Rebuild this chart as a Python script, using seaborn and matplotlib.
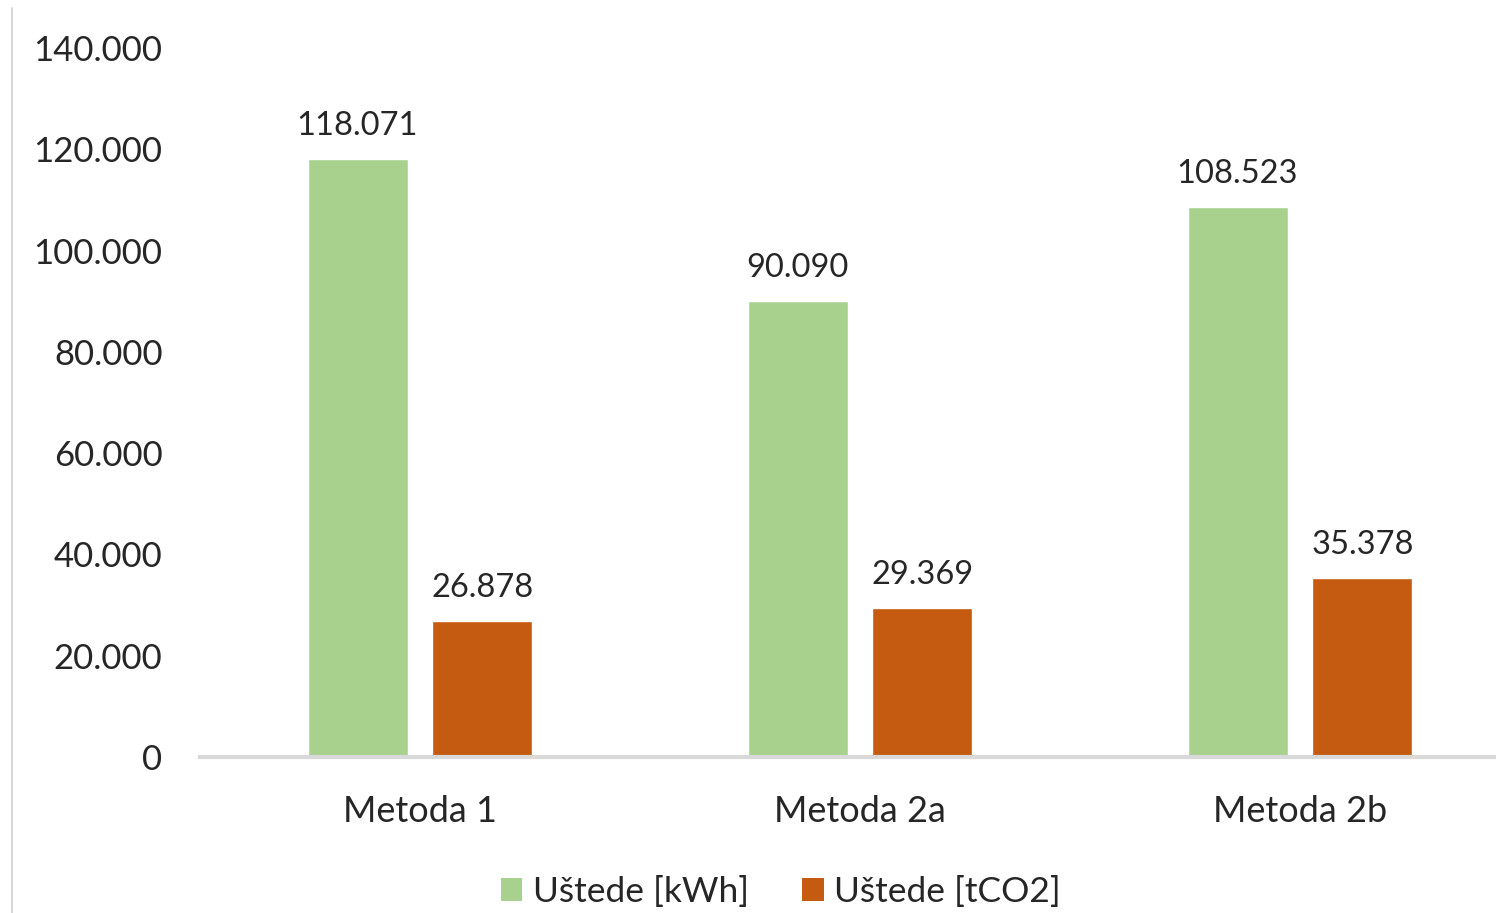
import matplotlib
matplotlib.use("Agg")
import matplotlib.pyplot as plt
from matplotlib.lines import Line2D
from matplotlib.patches import Patch
import seaborn as sns
import pandas as pd

categories = ["Metoda 1", "Metoda 2a", "Metoda 2b"]
series_names = ["Uštede [kWh]", "Uštede [tCO2]"]
kwh_values = [118071, 90090, 108523]
tco2_values = [26878, 29369, 35378]
y_ticks = [0, 20000, 40000, 60000, 80000, 100000, 120000, 140000]

colors = ["#A9D18E", "#C55A11"]

def fmt(v):
    return f"{int(round(v)):,}".replace(",", ".")

df = pd.DataFrame({
    "Metoda": categories * 2,
    "Serija": [series_names[0]] * 3 + [series_names[1]] * 3,
    "Vrijednost": kwh_values + tco2_values,
})

sns.set_theme(style="white")
plt.rcParams["font.family"] = ["Lato", "DejaVu Sans"]

fig = plt.figure(figsize=(14.96, 9.13), dpi=100)
ax = fig.add_axes([200 / 1496, (913 - 757) / 913, 1 - 200 / 1496, (757 - 48) / 913])

sns.barplot(data=df, x="Metoda", y="Vrijednost", hue="Serija", palette=colors,
            width=0.568, gap=0.2, ax=ax, legend=False, saturation=1)

for container in ax.containers:
    ax.bar_label(container, labels=[fmt(b.get_height()) for b in container],
                 padding=13, fontsize=23.5, color="#262626")

ax.set_ylim(0, 140000)
ax.set_xlim(-0.5, (1496 - 420) / 440)
ax.set_yticks(y_ticks)
ax.set_yticklabels([fmt(t) for t in y_ticks], fontsize=25, color="#262626")
ax.tick_params(axis="y", length=0, pad=27)
ax.tick_params(axis="x", length=0, pad=27, labelsize=26, labelcolor="#262626")
ax.set_xlabel("")
ax.set_ylabel("")
for s in ["top", "right", "left"]:
    ax.spines[s].set_visible(False)
ax.spines["bottom"].set_color("#D9D9D9")
ax.spines["bottom"].set_linewidth(3)
ax.patch.set_alpha(0)

fig.add_artist(Line2D([12 / 1496, 12 / 1496], [0, 1 - 8 / 913],
                      transform=fig.transFigure, color="#D0D0D0", lw=1.2))

handles = [Patch(facecolor=c, edgecolor="none") for c in colors]
fig.legend(handles, series_names, loc="center", ncol=2, frameon=False,
           bbox_to_anchor=(781 / 1496, 1 - 892 / 913), fontsize=25.5,
           handlelength=0.6, handleheight=0.6, handletextpad=0.3,
           columnspacing=1.5, labelcolor="#262626")

fig.savefig("out.png", dpi=100)
